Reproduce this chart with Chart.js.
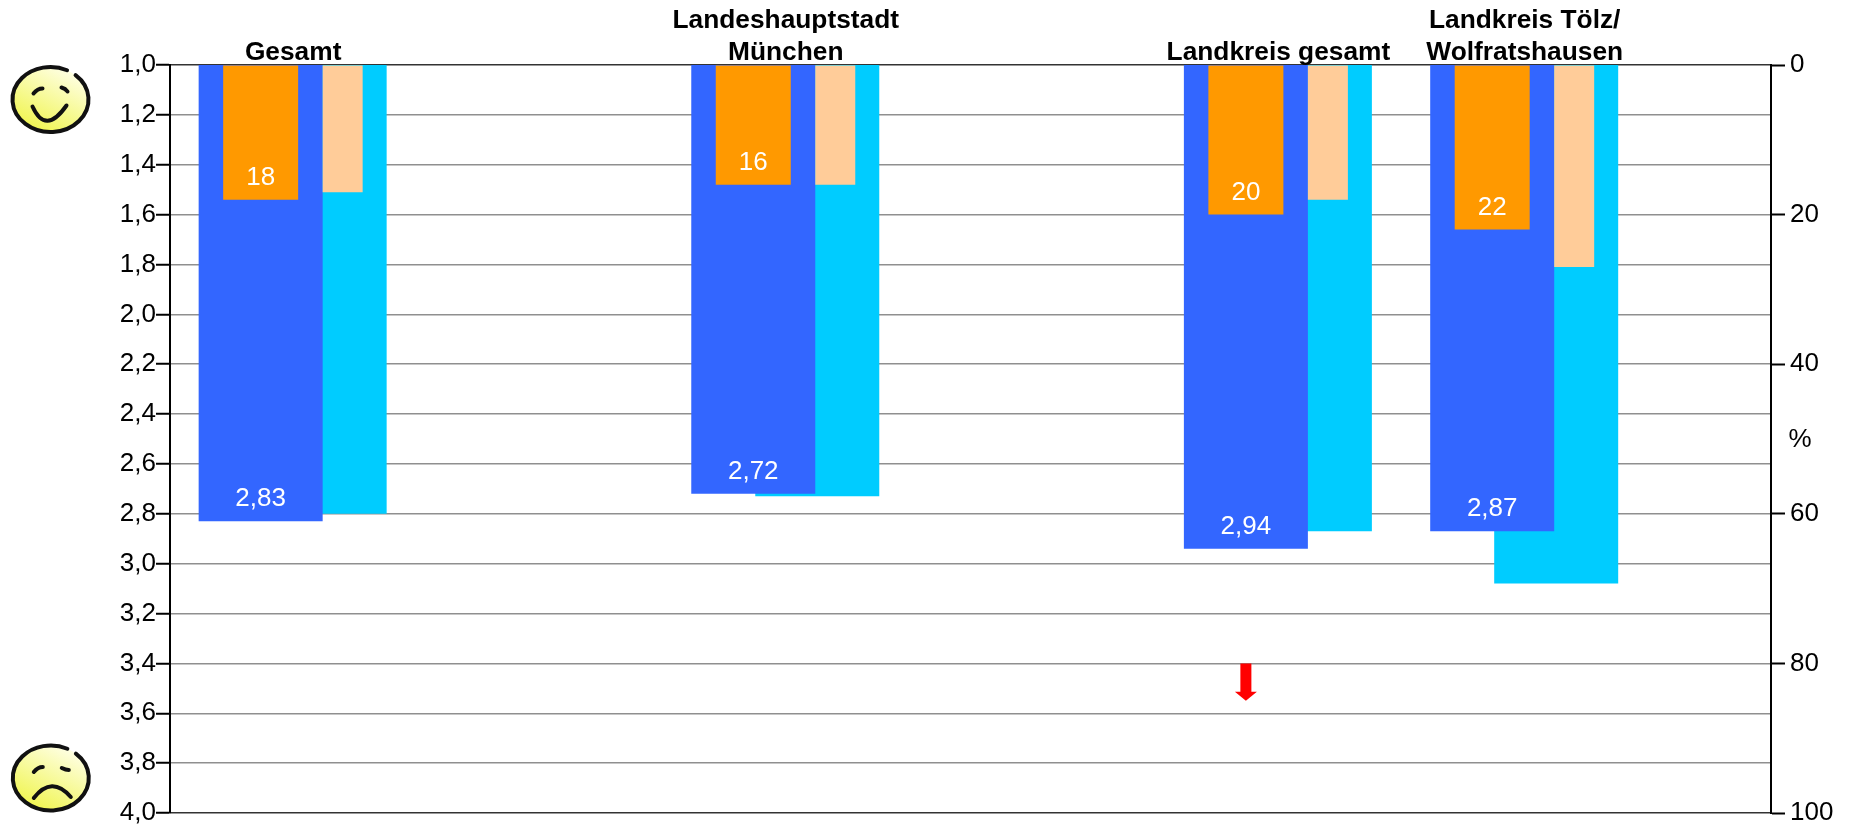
<!DOCTYPE html>
<html>
<head>
<meta charset="utf-8">
<title>Gesamt</title>
<script src="https://cdn.jsdelivr.net/npm/chart.js@4"></script>
<style>
    body { margin: 0; background: #fff; }
    canvas { display: block; }
</style>
</head>
<body>
<canvas id="myChart" width="1849" height="825"></canvas>
<script>
// chart values
const categories = [["Gesamt"], ["Landeshauptstadt", "München"], ["Landkreis gesamt"], ["Landkreis Tölz/", "Wolfratshausen"]];
const noteValues = [2.83, 2.72, 2.94, 2.87];
const noteValuesPrev = [2.80, 2.73, 2.87, 3.08];
const percentValues = [18, 16, 20, 22];
const percentValuesPrev = [17, 16, 18, 27];
const arrowRange = [3.4, 3.55];
const arrowCategory = 2;

// the x axis runs in half steps, the groups sit on these slots
const slotCount = 14;
const categorySlots = [1, 5, 9, 11];

const slotLabels = Array(slotCount).fill("");
categorySlots.forEach((slot, i) => { slotLabels[slot] = categories[i]; });

function onSlots(values) {
    const row = Array(slotCount).fill(null);
    categorySlots.forEach((slot, i) => { row[slot] = values[i]; });
    return row;
}

const fontName = '"Liberation Sans", Arial, sans-serif';
const gridGrey = "#8f8f8f";

function makeBars(data, color, axis, width, shift) {
    return {
        data: onSlots(data),
        backgroundColor: color,
        yAxisID: axis,
        grouped: false,
        barPercentage: 4,
        maxBarThickness: width,
        shift: shift,
    };
}

// the first dataset ends up on top
const datasets = [
    makeBars(percentValues, "#FF9900", "y2", 75, -32.5),
    makeBars(percentValuesPrev, "#FFCC99", "y2", 40, 49.5),
    makeBars(noteValues, "#3366FF", "y", 124, -32.5),
    makeBars(noteValuesPrev, "#00CCFF", "y", 124, 31.5),
];

// moves each series sideways inside its group
const barShift = {
    id: "barShift",
    afterDatasetsUpdate(chart) {
        chart.data.datasets.forEach((ds, i) => {
            chart.getDatasetMeta(i).data.forEach(bar => { bar.x += ds.shift; });
        });
    },
};

function drawSmiley(ctx, cx, cy, happy) {
    ctx.save();
    ctx.filter = "blur(0.7px)";
    const fill = ctx.createLinearGradient(cx + 18, cy - 32, cx - 14, cy + 32);
    fill.addColorStop(0, "#FFFFE8");
    fill.addColorStop(1, "#F0F550");
    ctx.fillStyle = fill;
    ctx.strokeStyle = "#111";
    ctx.lineWidth = 4;
    ctx.lineCap = "round";
    ctx.beginPath();
    ctx.ellipse(cx, cy, 38, 32.5, 0, 0, Math.PI * 2);
    ctx.fill();
    ctx.beginPath();
    ctx.ellipse(cx, cy, 38, 32.5, 0, -0.85, Math.PI * 2 - 1.12);
    ctx.stroke();

    const curve = (x0, y0, qx, qy, x1, y1) => {
        ctx.beginPath();
        ctx.moveTo(cx + x0, cy + y0);
        ctx.quadraticCurveTo(cx + qx, cy + qy, cx + x1, cy + y1);
        ctx.stroke();
    };
    ctx.lineWidth = 4;
    if (happy) {
        curve(-17, -6, -13, -11, -8, -11);
        curve(11, -12, 15, -11, 17, -8);
        curve(-18, 7, -5, 36, 16, 6);
    } else {
        curve(-17, -6, -13, -11, -8, -11);
        curve(11, -10, 15, -8, 18, -8);
        curve(-17, 20, 1, -3, 20, 19);
    }
    ctx.restore();
}

// value labels, the arrow, the % sign and the two faces
const extras = {
    id: "extras",
    afterDatasetsDraw(chart) {
        const ctx = chart.ctx;
        const { x, y, y2 } = chart.scales;

        ctx.save();
        ctx.fillStyle = "#fff";
        ctx.font = "26px " + fontName;
        ctx.textAlign = "center";
        ctx.textBaseline = "middle";
        [[0, v => String(v)], [2, v => v.toFixed(2).replace(".", ",")]].forEach(([dsIndex, format]) => {
            const values = chart.data.datasets[dsIndex].data;
            chart.getDatasetMeta(dsIndex).data.forEach((bar, i) => {
                if (values[i] === null) return;
                ctx.fillText(format(values[i]), bar.x, bar.y - 22);
            });
        });

        // red arrow under the third group
        const ax = x.getPixelForValue(categorySlots[arrowCategory]) + datasets[2].shift;
        const top = y.getPixelForValue(arrowRange[0]);
        const tip = y.getPixelForValue(arrowRange[1]);
        ctx.fillStyle = "#FF0000";
        ctx.beginPath();
        ctx.moveTo(ax - 5.5, top);
        ctx.lineTo(ax + 5.5, top);
        ctx.lineTo(ax + 5.5, tip - 9);
        ctx.lineTo(ax + 11, tip - 9);
        ctx.lineTo(ax, tip);
        ctx.lineTo(ax - 11, tip - 9);
        ctx.lineTo(ax - 5.5, tip - 9);
        ctx.closePath();
        ctx.fill();

        ctx.fillStyle = "#000";
        ctx.font = "26px " + fontName;
        ctx.fillText("%", 1800, y2.getPixelForValue(50) + 1);
        ctx.restore();

        drawSmiley(ctx, 50.5, 99.5, true);
        drawSmiley(ctx, 50.8, 778, false);
    },
};

const ctx = document.getElementById("myChart").getContext("2d");
const myChart = new Chart(ctx, {
    type: "bar",
    data: { labels: slotLabels, datasets: datasets },
    plugins: [barShift, extras],
    options: {
        responsive: false,
        animation: false,
        layout: { autoPadding: false, padding: { bottom: 12 } },
        plugins: { legend: { display: false }, tooltip: { enabled: false } },
        scales: {
            x: {
                position: "top",
                offset: false,
                afterFit: scale => { scale.height = 65; },
                grid: { display: false, drawTicks: false },
                border: { display: false },
                ticks: {
                    autoSkip: false,
                    maxRotation: 0,
                    padding: -4,
                    color: "#000",
                    font: { family: fontName, size: 26.3, weight: "bold", lineHeight: 1.23 },
                },
            },
            y: {
                position: "left",
                reverse: true,
                min: 1,
                max: 4,
                afterFit: scale => { scale.width = 170; scale.paddingTop = 0; scale.paddingBottom = 0; },
                border: { color: "#000", width: 2 },
                grid: {
                    color: c => (c.index === 0 || c.index === 15) ? "#333" : gridGrey,
                    lineWidth: 1.5,
                    tickColor: "#000",
                    tickLength: 14,
                    tickWidth: 2,
                },
                ticks: {
                    stepSize: 0.2,
                    padding: 0,
                    color: "#000",
                    font: { family: fontName, size: 26 },
                    callback: v => v.toFixed(1).replace(".", ","),
                },
            },
            y2: {
                position: "right",
                reverse: true,
                min: 0,
                max: 100,
                afterFit: scale => { scale.width = 78; scale.paddingTop = 0; scale.paddingBottom = 0; },
                border: { color: "#000", width: 2 },
                grid: {
                    drawOnChartArea: false,
                    color: "#000",
                    tickLength: 14,
                    tickWidth: 2,
                },
                ticks: {
                    stepSize: 20,
                    padding: 5,
                    color: "#000",
                    font: { family: fontName, size: 26 },
                },
            },
        },
    },
});
</script>
</body>
</html>
